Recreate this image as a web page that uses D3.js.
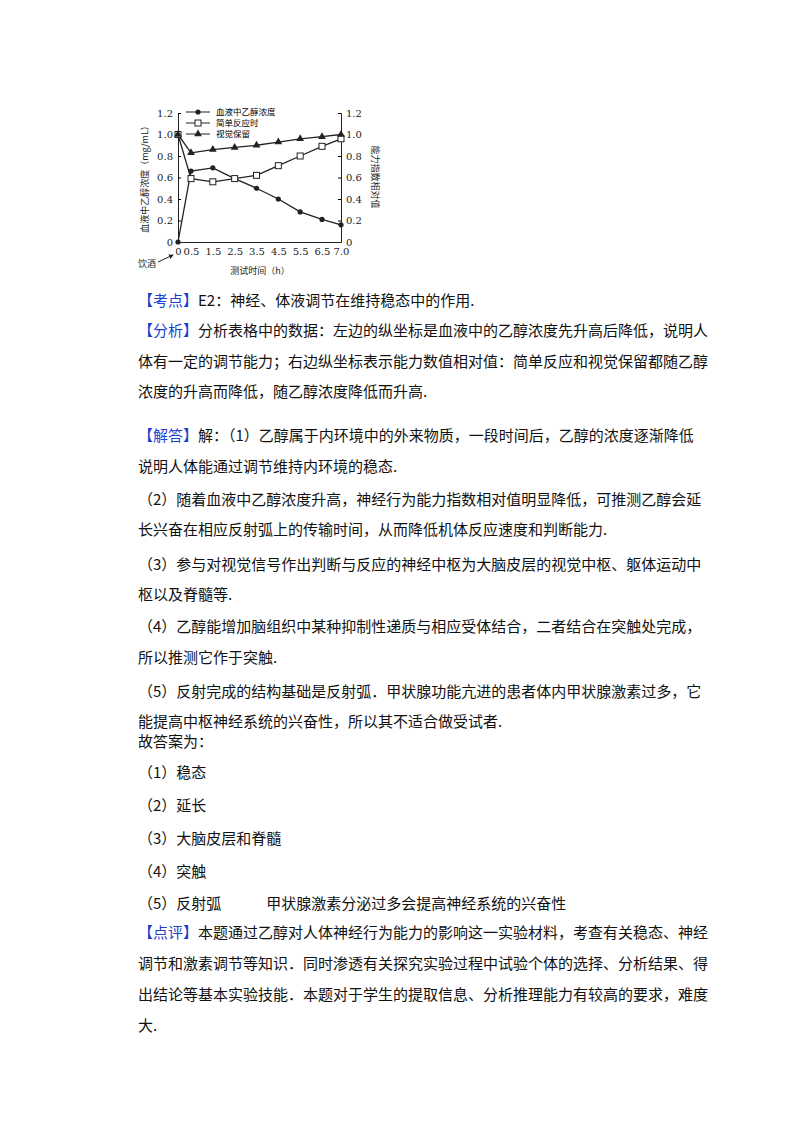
<!DOCTYPE html>
<html><head><meta charset="utf-8">
<script src="https://cdn.jsdelivr.net/npm/d3@7"></script>
<style>body{margin:0;background:#fff}</style>
</head><body>
<svg id="page" width="800" height="1132"></svg>
<script>
var times = [0, 0.5, 1.5, 2.5, 3.5, 4.5, 5.5, 6.5, 7.0];
var tickLabels = ["0", "0.5", "1.5", "2.5", "3.5", "4.5", "5.5", "6.5", "7.0"];
var bloodAlcohol = [0, 0.66, 0.69, 0.59, 0.5, 0.4, 0.28, 0.21, 0.16];
var simpleReaction = [1.0, 0.59, 0.56, 0.59, 0.62, 0.71, 0.80, 0.89, 0.96];
var visualRetention = [1.0, 0.83, 0.86, 0.88, 0.90, 0.93, 0.96, 0.98, 1.0];
var seriesNames = ["血液中乙醇浓度", "简单反应时", "视觉保留"];
var yTicks = [0, 0.2, 0.4, 0.6, 0.8, 1.0, 1.2];

var svg = d3.select("#page");
var font = "'Noto Sans CJK SC', 'DejaVu Serif', serif";

// chart
var margin = {left: 178, right: 341, top: 113, bottom: 242};
// the original axis is not evenly spaced at its ends
var x = d3.scaleLinear().domain([0, 0.5, 6.5, 7]).range([178, 191, 322, 341]);
var y = d3.scaleLinear().domain([0, 1.2]).range([margin.bottom, margin.top]);

var fmt = function(d){return d===0?"0":d3.format(".1f")(d);};
var ax = svg.append("g").attr("font-size", 8.5);
ax.append("g").attr("transform", "translate(" + margin.left + ",0)")
  .call(d3.axisLeft(y).tickValues(yTicks).tickSize(-3).tickPadding(5).tickFormat(fmt));
ax.append("g").attr("transform", "translate(" + margin.right + ",0)")
  .call(d3.axisRight(y).tickValues(yTicks).tickSize(-3).tickPadding(5).tickFormat(fmt));
ax.append("g").attr("transform", "translate(0," + margin.bottom + ")")
  .call(d3.axisBottom(x).tickValues(times).tickSize(0).tickPadding(6).tickFormat(function(d,i){return tickLabels[i];}));
ax.selectAll("text").attr("fill", "#222").attr("font-family", "'DejaVu Serif', serif");
ax.selectAll(".domain").attr("stroke", "#222");

var line = d3.line().x(function(d,i){return x(times[i]);}).y(function(d){return y(d);});
[bloodAlcohol, simpleReaction, visualRetention].forEach(function(s){
  svg.append("path").datum(s).attr("d", line).attr("fill", "none").attr("stroke", "#222").attr("stroke-width", 1.3);
});
function marker(g, type, cx, cy) {
  if (type === 0) g.append("circle").attr("cx", cx).attr("cy", cy).attr("r", 2.6).attr("fill", "#222");
  else if (type === 1) g.append("rect").attr("x", cx-3).attr("y", cy-3).attr("width", 6).attr("height", 6).attr("fill", "#fff").attr("stroke", "#222");
  else g.append("path").attr("d", d3.symbol(d3.symbolTriangle, 26)()).attr("transform", "translate(" + cx + "," + cy + ")").attr("fill", "#222");
}
[bloodAlcohol, simpleReaction, visualRetention].forEach(function(s, k){
  s.forEach(function(v, i){ marker(svg, k, x(times[i]), y(v)); });
});

// legend
seriesNames.forEach(function(n, i){
  var ly = 112 + i * 11;
  svg.append("line").attr("x1", 186).attr("x2", 210).attr("y1", ly).attr("y2", ly).attr("stroke", "#222");
  marker(svg, i, 198, ly);
  svg.append("text").attr("x", 216).attr("y", ly).attr("dy", "0.35em").attr("font-size", 8.5).attr("font-family", font).text(n);
});

// axis titles
svg.append("text").attr("transform", "translate(148,177) rotate(-90)").attr("text-anchor", "middle")
  .attr("font-size", 9).attr("font-family", font).attr("fill", "#222").text("血液中乙醇浓度（mg/mL）");
svg.append("text").attr("transform", "translate(372,177) rotate(90)").attr("text-anchor", "middle")
  .attr("font-size", 9).attr("font-family", font).attr("fill", "#222").text("能力指数相对值");
svg.append("text").attr("x", 260).attr("y", 274).attr("text-anchor", "middle")
  .attr("font-size", 9).attr("font-family", font).attr("fill", "#222").text("测试时间（h）");
svg.append("text").attr("x", 138).attr("y", 267).attr("font-size", 9).attr("font-family", font).attr("fill", "#222").text("饮酒");
svg.append("defs").append("marker").attr("id", "ah").attr("viewBox", "0 0 6 6").attr("refX", 5).attr("refY", 3)
  .attr("markerWidth", 5).attr("markerHeight", 5).attr("orient", "auto")
  .append("path").attr("d", "M0,0L6,3L0,6Z").attr("fill", "#222");
svg.append("line").attr("x1", 158).attr("y1", 262).attr("x2", 173).attr("y2", 255).attr("stroke", "#222").attr("marker-end", "url(#ah)");

// text body
var lines = [
  [301, "【考点】", "E2：神经、体液调节在维持稳态中的作用."],
  [331, "【分析】", "分析表格中的数据：左边的纵坐标是血液中的乙醇浓度先升高后降低，说明人"],
  [362, "", "体有一定的调节能力；右边纵坐标表示能力数值相对值：简单反应和视觉保留都随乙醇"],
  [392, "", "浓度的升高而降低，随乙醇浓度降低而升高."],
  [436, "【解答】", "解：（1）乙醇属于内环境中的外来物质，一段时间后，乙醇的浓度逐渐降低"],
  [467, "", "说明人体能通过调节维持内环境的稳态."],
  [500, "", "（2）随着血液中乙醇浓度升高，神经行为能力指数相对值明显降低，可推测乙醇会延"],
  [530, "", "长兴奋在相应反射弧上的传输时间，从而降低机体反应速度和判断能力."],
  [565, "", "（3）参与对视觉信号作出判断与反应的神经中枢为大脑皮层的视觉中枢、躯体运动中"],
  [595, "", "枢以及脊髓等."],
  [627, "", "（4）乙醇能增加脑组织中某种抑制性递质与相应受体结合，二者结合在突触处完成，"],
  [658, "", "所以推测它作于突触."],
  [692, "", "（5）反射完成的结构基础是反射弧．甲状腺功能亢进的患者体内甲状腺激素过多，它"],
  [722, "", "能提高中枢神经系统的兴奋性，所以其不适合做受试者."],
  [742, "", "故答案为："],
  [773, "", "（1）稳态"],
  [806, "", "（2）延长"],
  [839, "", "（3）大脑皮层和脊髓"],
  [872, "", "（4）突触"],
  [904, "", "（5）反射弧　　　甲状腺激素分泌过多会提高神经系统的兴奋性"],
  [933, "【点评】", "本题通过乙醇对人体神经行为能力的影响这一实验材料，考查有关稳态、神经"],
  [964, "", "调节和激素调节等知识．同时渗透有关探究实验过程中试验个体的选择、分析结果、得"],
  [995, "", "出结论等基本实验技能．本题对于学生的提取信息、分析推理能力有较高的要求，难度"],
  [1026, "", "大."]
];
lines.forEach(function(l){
  var t = svg.append("text").attr("x", 138).attr("y", l[0]).attr("dy", "0.35em")
    .attr("font-size", 15).attr("font-family", font).attr("fill", "#111");
  if (l[1]) t.append("tspan").attr("fill", "#1a3fd0").text(l[1]);
  t.append("tspan").text(l[2]);
});
</script>
</body></html>
